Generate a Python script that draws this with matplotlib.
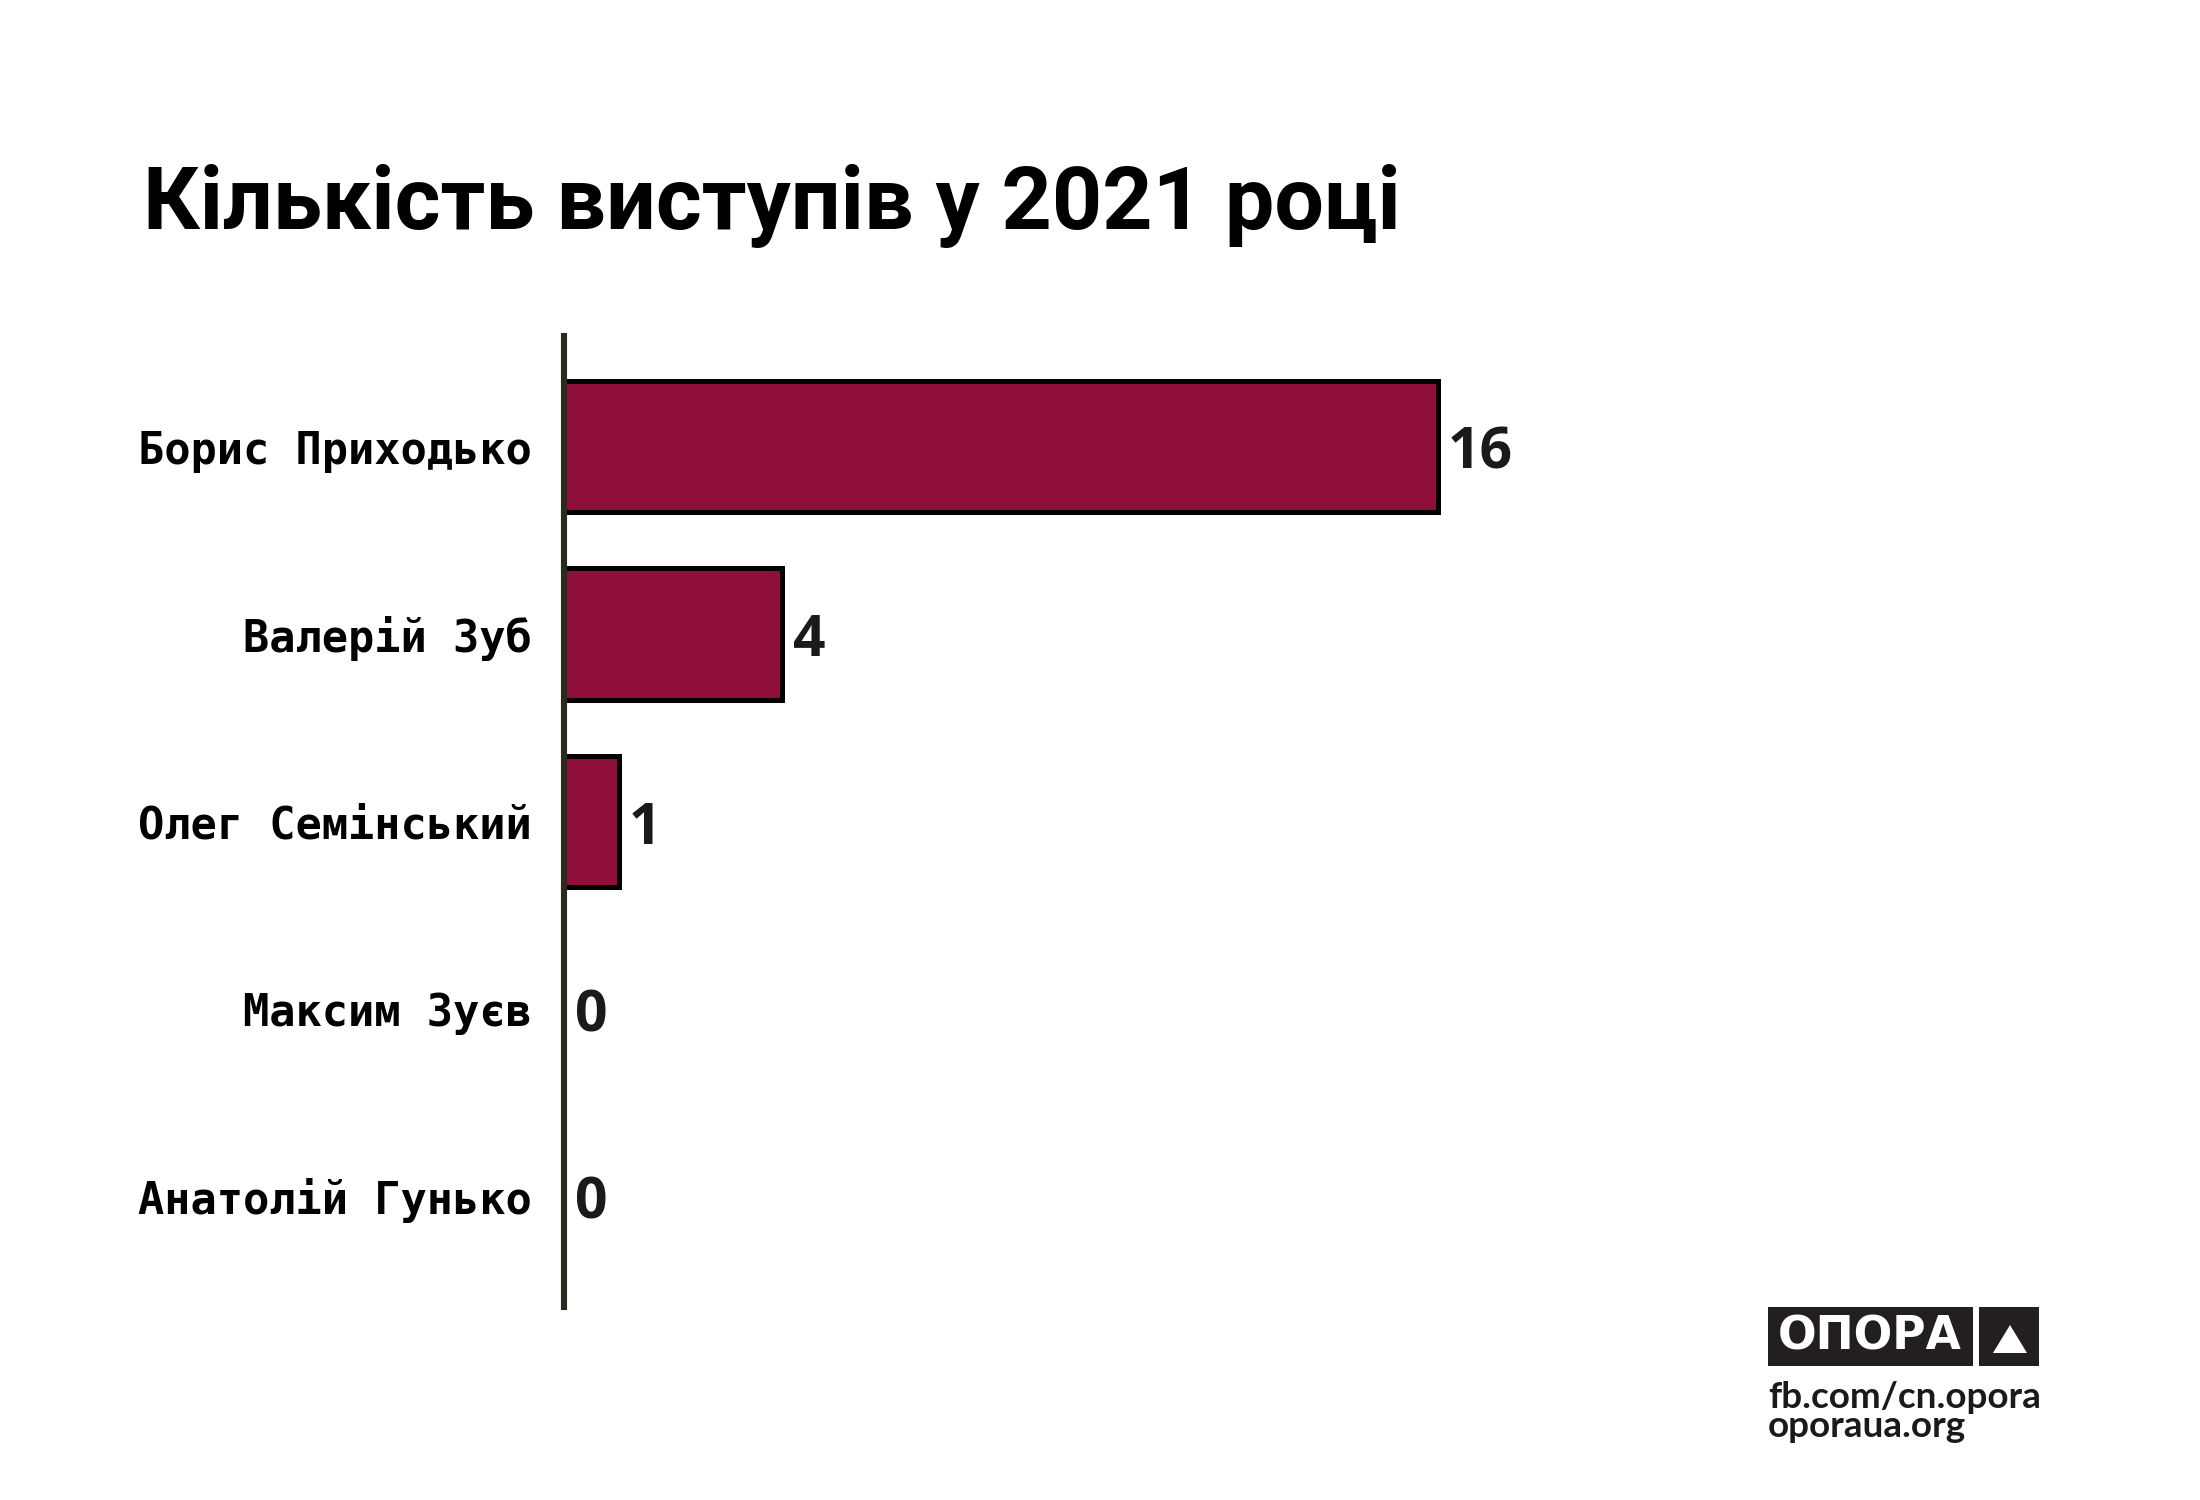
import matplotlib
matplotlib.use("Agg")
import matplotlib.pyplot as plt
from matplotlib.patches import Rectangle, Polygon

# Data
names = ["Борис Приходько", "Валерій Зуб", "Олег Семінський", "Максим Зуєв", "Анатолій Гунько"]
values = [16, 4, 1, 0, 0]
title = "Кількість виступів у 2021 році"

BAR_COLOR = "#8E0F3A"
AXIS_COLOR = "#2A2A23"
TEXT_DARK = "#1A1A1A"

fig = plt.figure(figsize=(11, 7.5), dpi=200)
fig.patch.set_facecolor("white")

W, H = 2200, 1500
ax_left = 564 / W
ax_bottom = 1 - 1307 / H
ax_top = 1 - 336 / H
ax = fig.add_axes([ax_left, ax_bottom, 1365 / W, ax_top - ax_bottom])

ypos = list(range(len(names)))
ax.barh(ypos, values, height=0.70, color=BAR_COLOR, edgecolor="black",
        linewidth=1.8, zorder=2)
ax.set_xlim(0, 25)
ax.set_ylim(len(names) - 1 + 0.59, -0.59)

for s in ["top", "right", "bottom"]:
    ax.spines[s].set_visible(False)
ax.spines["left"].set_color(AXIS_COLOR)
ax.spines["left"].set_linewidth(2.2)
ax.spines["left"].set_zorder(3)
ax.set_xticks([])
ax.set_yticks(ypos)
ax.set_yticklabels(names, fontfamily="DejaVu Sans Mono", fontweight="bold",
                   fontsize=15.7, color="black")
ax.tick_params(axis="y", length=0, pad=11.5)

for y, v in zip(ypos, values):
    ax.annotate(str(v), xy=(v, y), xytext=(3.8, -2.6), textcoords="offset points",
                ha="left", va="center", fontfamily="Open Sans", fontweight="bold",
                fontsize=20.5, color=TEXT_DARK)

# Title
fig.text(143 / W, 1 - 229 / H, title, fontfamily="Roboto", fontweight="bold",
         fontsize=31.65, color="black", ha="left", va="baseline")

# Logo
logo_dark = "#231F20"
fig.patches.append(Rectangle((1768 / W, 1 - 1366 / H), (1973 - 1768) / W, (1366 - 1307) / H,
                             transform=fig.transFigure, facecolor=logo_dark, edgecolor="none"))
fig.patches.append(Rectangle((1979 / W, 1 - 1366 / H), (2039 - 1979) / W, (1366 - 1307) / H,
                             transform=fig.transFigure, facecolor=logo_dark, edgecolor="none"))
fig.patches.append(Polygon([(2010 / W, 1 - 1325 / H), (1993 / W, 1 - 1353 / H), (2027 / W, 1 - 1353 / H)],
                           closed=True, transform=fig.transFigure, facecolor="white", edgecolor="none"))
fig.text(1870 / W, 1 - 1337 / H, "ОПОРА", fontfamily="DejaVu Sans", fontweight="bold",
         fontsize=16.4, color="white", ha="center", va="center")
fig.text(1768 / W, 1 - 1408 / H, "fb.com/cn.opora", fontfamily="Lato", fontweight="bold",
         fontsize=13.3, color=TEXT_DARK, ha="left", va="baseline")
fig.text(1768 / W, 1 - 1437 / H, "oporaua.org", fontfamily="Lato", fontweight="bold",
         fontsize=13.3, color=TEXT_DARK, ha="left", va="baseline")

fig.savefig("out.png", dpi=200, facecolor="white")
